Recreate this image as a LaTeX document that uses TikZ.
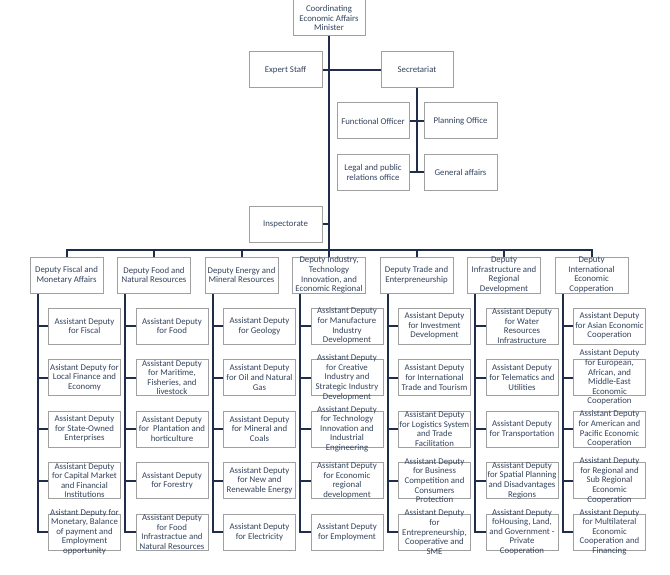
\documentclass[tikz,border=0pt]{standalone}
\usepackage{fontspec}
\setmainfont{Carlito}
\definecolor{linec}{HTML}{1F2D4A}
\definecolor{textc}{HTML}{34445E}
\definecolor{boxc}{HTML}{A0A0A0}
\pgfdeclarelayer{background}
\pgfsetlayers{background,main}
\tikzset{
  box/.style={draw=boxc, line width=1bp, fill=white, minimum width=72bp, minimum height=36bp, inner sep=0pt},
  txt/.style={text=textc, align=center, inner sep=0pt, font=\fontsize{8.8bp}{9.6bp}\selectfont},
  conn/.style={draw=linec, line width=2bp},
}
\newcommand{\bx}[5]{%
  \node[box, minimum width=#4] (#1) at (#2,#3) {};
  \node[txt] (#1t) at (#1) {#5};
}
\begin{document}
\begin{tikzpicture}[x=1bp,y=-1bp]
\useasboundingbox (0,0) rectangle (670,575);
% top level
\bx{min}{329}{18}{72bp}{Coordinating\\Economic Affairs\\Minister}
\bx{exp}{285.5}{70}{73bp}{Expert Staff}
\bx{sec}{417}{70}{72bp}{Secretariat}
\bx{func}{373}{121}{72bp}{Functional Officer}
\bx{plan}{460.5}{121}{73bp}{Planning Office}
\bx{legal}{373}{172.5}{72bp}{Legal and public\\relations office}
\bx{gen}{460.5}{172.5}{73bp}{General affairs}
\bx{insp}{285.5}{224}{73bp}{Inspectorate}
% deputies
\bx{d1}{66.5}{275}{73bp}{Deputy Fiscal and\\Monetary Affairs}
\bx{d2}{154}{275}{73bp}{Deputy Food and\\Natural Resources}
\bx{d3}{241.5}{275}{73bp}{Deputy Energy and\\Mineral Resources}
\bx{d4}{329}{275}{73bp}{Deputy Industry,\\Technology\\Innovation, and\\Economic Regional}
\bx{d5}{416.5}{275}{73bp}{Deputy Trade and\\Enterpreneurship}
\bx{d6}{504}{275}{73bp}{Deputy\\Infrastructure and\\Regional\\Development}
\bx{d7}{591.5}{275}{73bp}{Deputy\\International\\Economic\\Copperation}
% column 1
\bx{a11}{84.5}{326}{72bp}{Assistant Deputy\\for Fiscal}
\bx{a12}{84.5}{377.5}{72bp}{Asistant Deputy for\\Local Finance and\\Economy}
\bx{a13}{84.5}{429}{72bp}{Assistant Deputy\\for State-Owned\\Enterprises}
\bx{a14}{84.5}{480.5}{72bp}{Assistant Deputy\\for Capital Market\\and Financial\\Institutions}
\bx{a15}{84.5}{532}{72bp}{Asistant Deputy for\\Monetary, Balance\\of payment and\\Employment\\opportunity}
% column 2
\bx{a21}{172}{326}{72bp}{Assistant Deputy\\for Food}
\bx{a22}{172}{377.5}{72bp}{Assistant Deputy\\for Maritime,\\Fisheries, and\\livestock}
\bx{a23}{172}{429}{72bp}{Assistant Deputy\\for\ \ Plantation and\\horticulture}
\bx{a24}{172}{480.5}{72bp}{Assistant Deputy\\for Forestry}
\bx{a25}{172}{532}{72bp}{Assistant Deputy\\for Food\\Infrastractue and\\Natural Resources}
% column 3
\bx{a31}{259.5}{326}{72bp}{Assistant Deputy\\for Geology}
\bx{a32}{259.5}{377.5}{72bp}{Assistant Deputy\\for Oil and Natural\\Gas}
\bx{a33}{259.5}{429}{72bp}{Assistant Deputy\\for Mineral and\\Coals}
\bx{a34}{259.5}{480.5}{72bp}{Assistant Deputy\\for New and\\Renewable Energy}
\bx{a35}{259.5}{532}{72bp}{Assistant Deputy\\for Electricity}
% column 4
\bx{a41}{347}{326}{72bp}{Assistant Deputy\\for Manufacture\\Industry\\Development}
\bx{a42}{347}{377.5}{72bp}{Assistant Deputy\\for Creative\\Industry and\\Strategic Industry\\Development}
\bx{a43}{347}{429}{72bp}{Assistant Deputy\\for Technology\\Innovation and\\Industrial\\Engineering}
\bx{a44}{347}{480.5}{72bp}{Assistant Deputy\\for Economic\\regional\\development}
\bx{a45}{347}{532}{72bp}{Assistant Deputy\\for Employment}
% column 5
\bx{a51}{434.5}{326}{72bp}{Assistant Deputy\\for Investment\\Development}
\bx{a52}{434.5}{377.5}{72bp}{Assistant Deputy\\for International\\Trade and Tourism}
\bx{a53}{434.5}{429}{72bp}{Assistant Deputy\\for Logistics System\\and Trade\\Facilitation}
\bx{a54}{434.5}{480.5}{72bp}{Assistant Deputy\\for Business\\Competition and\\Consumers\\Protection}
\bx{a55}{434.5}{532}{72bp}{Assistant Deputy\\for\\Entrepreneurship,\\Cooperative and\\SME}
% column 6
\bx{a61}{522}{326}{72bp}{Assistant Deputy\\for Water\\Resources\\Infrastructure}
\bx{a62}{522}{377.5}{72bp}{Assistant Deputy\\for Telematics and\\Utilities}
\bx{a63}{522}{429}{72bp}{Assistant Deputy\\for Transportation}
\bx{a64}{522}{480.5}{72bp}{Assistant Deputy\\for Spatial Planning\\and Disadvantages\\Regions}
\bx{a65}{522}{532}{72bp}{Assistant Deputy\\foHousing, Land,\\and Government -\\Private\\Cooperation}
% column 7
\bx{a71}{609.5}{326}{72bp}{Assistant Deputy\\for Asian Economic\\Cooperation}
\bx{a72}{609.5}{377.5}{72bp}{Assistant Deputy\\for European,\\African, and\\Middle-East\\Economic\\Cooperation}
\bx{a73}{609.5}{429}{72bp}{Assistant Deputy\\for American and\\Pacific Economic\\Cooperation}
\bx{a74}{609.5}{480.5}{72bp}{Assistant Deputy\\for Regional and\\Sub Regional\\Economic\\Cooperation}
\bx{a75}{609.5}{532}{72bp}{Assistant Deputy\\for Multilateral\\Economic\\Cooperation and\\Financing}
\coordinate (bus) at (329,249.5);
\begin{pgfonlayer}{background}
\draw[conn] (min.south) -- (d4.north);
\draw[conn] (exp.east) -- (sec.west);
\draw[conn] (insp.east) -- (insp.east -| min.south);
\draw[conn] (sec.south) |- (func.east);
\draw[conn] (sec.south) |- (plan.west);
\draw[conn] (sec.south) |- (legal.east);
\draw[conn] (sec.south) |- (gen.west);
\draw[conn] (d1.north) |- (bus) -| (d7.north);
\foreach \i in {2,3,5,6} { \draw[conn] (d\i.north) |- (bus); }
\foreach \i in {1,...,7} {
  \foreach \k in {1,...,5} {
    \draw[conn] ([xshift=8bp]d\i.south west) |- (a\i\k.west);
  }
}
\end{pgfonlayer}
\end{tikzpicture}
\end{document}
